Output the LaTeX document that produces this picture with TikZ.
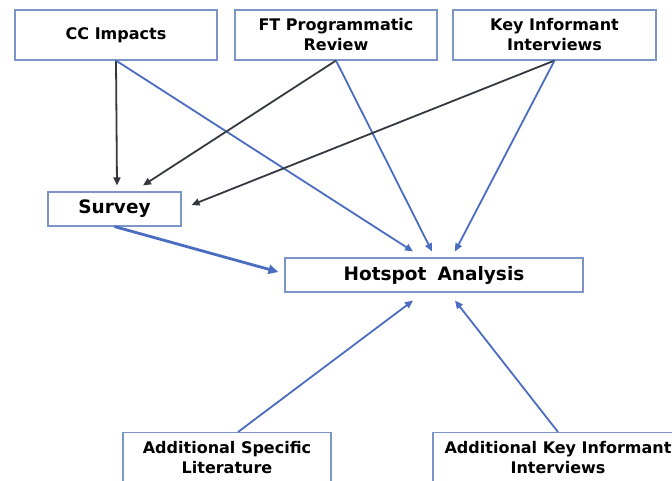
\documentclass[tikz,border=0pt]{standalone}
\usepackage{fontspec}
\setmainfont{DejaVu Sans}
\usetikzlibrary{arrows.meta}
\definecolor{boxline}{HTML}{7D94C6}
\definecolor{arrblue}{HTML}{4A6DC2}
\definecolor{arrdark}{HTML}{35383F}
\tikzset{
  sbox/.style={draw=boxline, line width=1.1pt, fill=white, inner sep=0pt, align=center,
    font=\bfseries\fontsize{16}{20}\selectfont},
  bbox/.style={sbox, font=\bfseries\fontsize{18.5}{22}\selectfont},
  blueconn/.style={draw=arrblue, line width=1.8pt, -{Triangle[length=8pt,width=7pt]}},
  darkconn/.style={draw=arrdark, line width=1.8pt, -{Triangle[length=8pt,width=7pt]}},
  thickconn/.style={draw=arrblue, line width=2.8pt, -{Triangle[length=10pt,width=9pt]}}
}
\begin{document}
\begin{tikzpicture}[x=1pt,y=-1pt]
\useasboundingbox (0,0) rectangle (672,480);
\clip (0,0) rectangle (672,480);
\node[sbox, minimum width=202pt, minimum height=50pt] (cc) at (116,35) {CC Impacts};
\node[sbox, minimum width=202pt, minimum height=50pt] (ft) at (336,35) {FT Programmatic\\Review};
\node[sbox, minimum width=203pt, minimum height=50pt] (kii) at (554.5,35) {Key Informant\\Interviews};
\node[bbox, minimum width=133pt, minimum height=34pt] (survey) at (114.5,209) {Survey};
\node[bbox, minimum width=298pt, minimum height=34pt] (hot) at (434,275) {Hotspot\hspace{0.6em}Analysis};
\node[sbox, anchor=north, minimum width=208pt, minimum height=50pt] (asl) at (227,432) {Additional Specific\\Literature};
\node[sbox, anchor=north, minimum width=250pt, minimum height=50pt] (akii) at (558,432) {Additional Key Informant\\Interviews};

\draw[darkconn] (cc.south) -- ([xshift=2.5pt,yshift=6pt]survey.north);
\draw[blueconn] (cc.south) -- ([xshift=-21pt,yshift=6pt]hot.north);
\draw[darkconn] (ft.south) -- ([xshift=28.5pt,yshift=6pt]survey.north);
\draw[blueconn] (ft.south) -- ([xshift=-2pt,yshift=6pt]hot.north);
\draw[darkconn] (kii.south) -- ([xshift=10pt,yshift=4pt]survey.east);
\draw[blueconn] (kii.south) -- ([xshift=21pt,yshift=6pt]hot.north);
\draw[thickconn] (survey.south) -- ([xshift=-6pt,yshift=3pt]hot.west);
\draw[blueconn] ([xshift=11pt]asl.north) -- ([xshift=-21pt,yshift=-8pt]hot.south);
\draw[blueconn] (akii.north) -- ([xshift=21pt,yshift=-8pt]hot.south);
\end{tikzpicture}
\end{document}
